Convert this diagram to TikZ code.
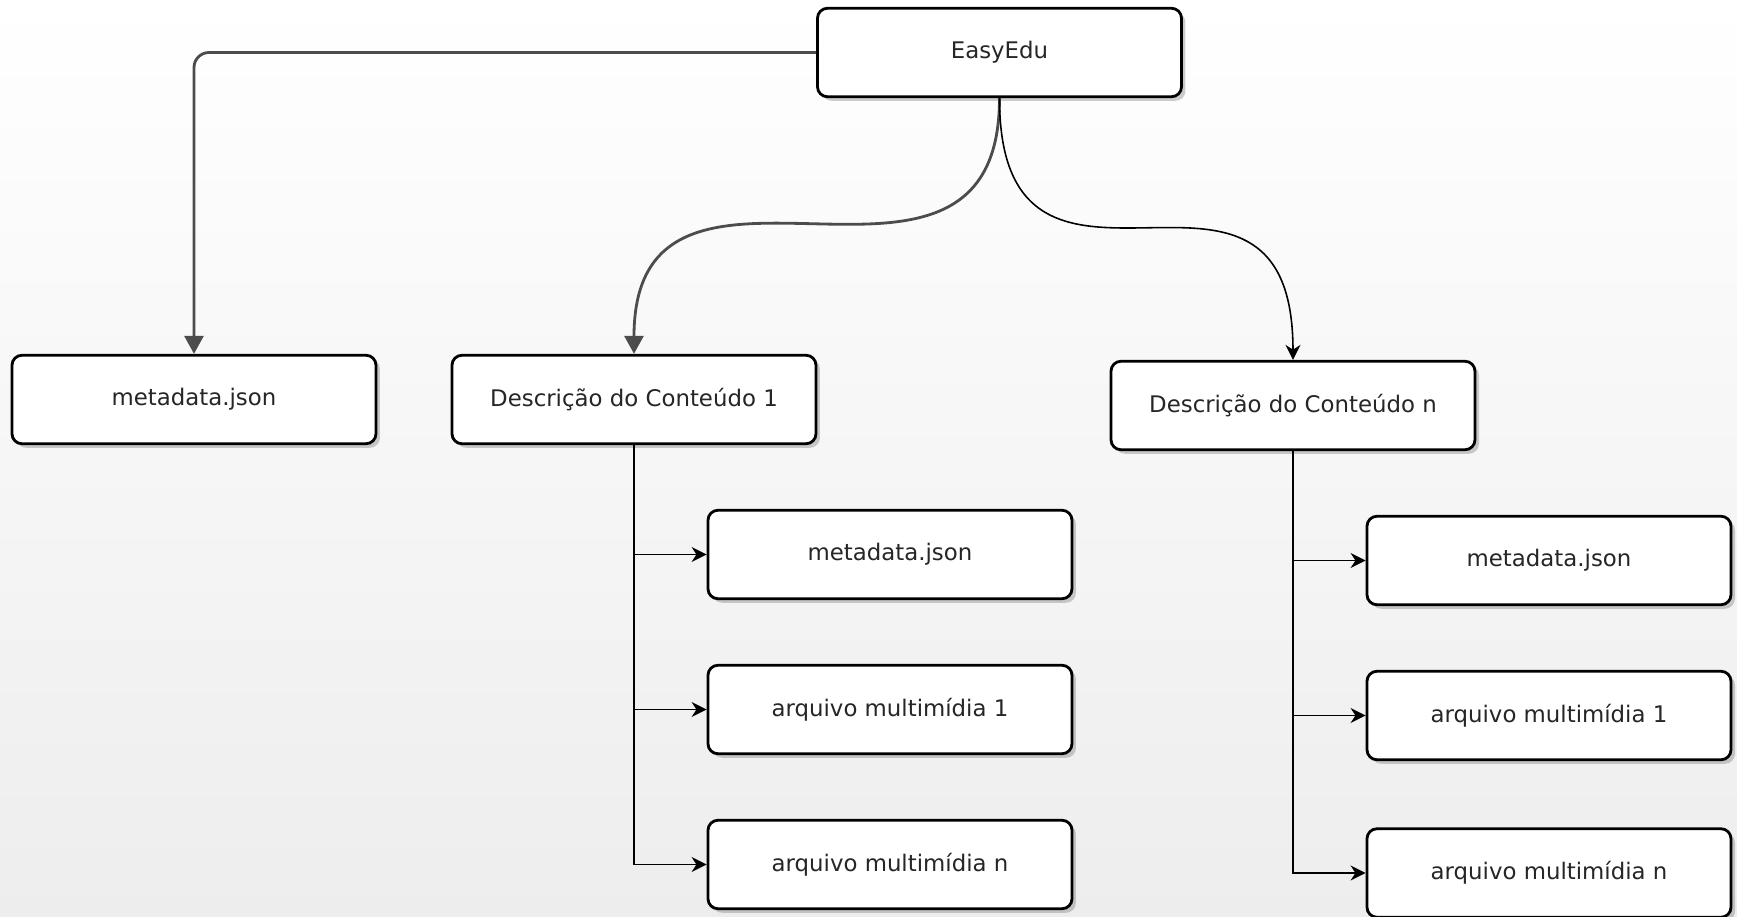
\documentclass[tikz,border=0pt]{standalone}
\usepackage{fontspec}
\setmainfont{DejaVu Sans}
\usepackage{tikz}
\usetikzlibrary{arrows.meta, shadows}
\tikzstyle{entry} = [rectangle, rounded corners=0.2cm, minimum width=7.28cm, minimum height=1.77cm, text centered, draw=black, line width=1.6pt, fill=white, text=black!85, font=\fontsize{13}{15}\selectfont, drop shadow={shadow xshift=0.08cm, shadow yshift=-0.08cm, opacity=0.4}]
\tikzstyle{arrow} = [line width=1.6pt, draw=black!70, -{Triangle[length=0.36cm, width=0.38cm]}]
\tikzstyle{thinarrow} = [line width=0.9pt, draw=black, -{Stealth[length=0.3cm, width=0.3cm]}]

\begin{document}
\begin{tikzpicture}[node distance = 3.1cm]
	\path[use as bounding box, top color=white, bottom color=black!7] (-19.99,-17.27) rectangle (14.75,1.05);

	\node (easy) [entry] {EasyEdu};
	\node (desc1) [entry, below of=easy, xshift=-7.31cm, yshift=-3.84cm] {Descrição do Conteúdo 1};
	\node (meta) [entry, left of=desc1, xshift=-5.7cm] {metadata.json};
	\node (descn) [entry, right of=desc1, xshift=10.08cm, yshift=-0.12cm] {Descrição do Conteúdo n};

	\node (meta1) [entry, below of=desc1, xshift=5.12cm] {metadata.json};
	\node (arq11) [entry, below of=meta1] {arquivo multimídia 1};
	\node (arq1n) [entry, below of=arq11] {arquivo multimídia n};

	\node (meta2) [entry, below of=descn, xshift=5.12cm] {metadata.json};
	\node (arq21) [entry, below of=meta2] {arquivo multimídia 1};
	\node (arq2n) [entry, below of=arq21, yshift=-0.05cm] {arquivo multimídia n};

	\draw [arrow, rounded corners=0.3cm] (easy.west) -| (meta.north);
	\draw [arrow] (easy.south) .. controls (easy.south |- desc1.north) and (desc1.north |- easy.south) .. (desc1.north);
	\draw [thinarrow] (easy.south) .. controls (easy.south |- descn.north) and (descn.north |- easy.south) .. (descn.north);

	\draw [thinarrow] (desc1.south) |- (meta1.west);
	\draw [thinarrow] (desc1.south) |- (arq11.west);
	\draw [thinarrow] (desc1.south) |- (arq1n.west);

	\draw [thinarrow] (descn.south) |- (meta2.west);
	\draw [thinarrow] (descn.south) |- (arq21.west);
	\draw [thinarrow] (descn.south) |- (arq2n.west);
\end{tikzpicture}
\end{document}
